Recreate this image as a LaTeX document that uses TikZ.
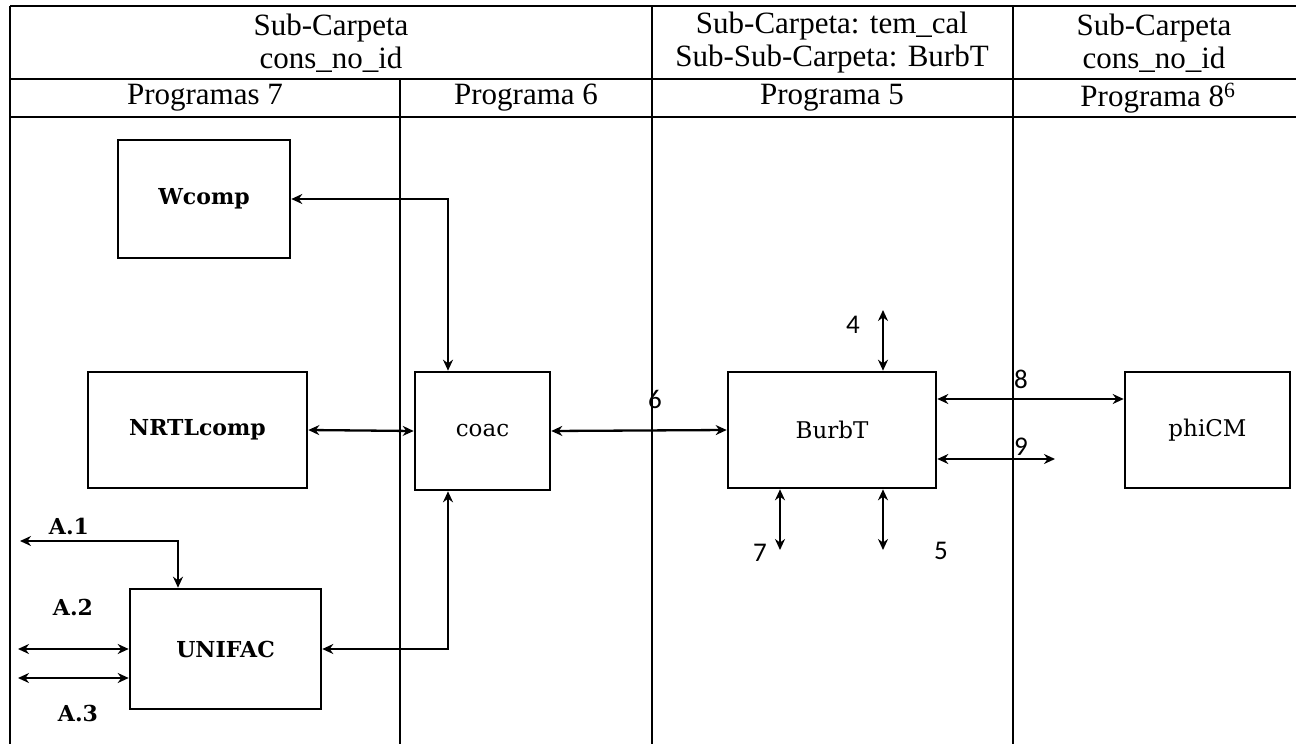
\documentclass[tikz,border=0pt]{standalone}
\usepackage{fontspec}
\setmainfont{Liberation Serif}
\newfontfamily\boxfont{DejaVu Serif}
\newfontfamily\numfont{Carlito}
\usetikzlibrary{arrows.meta}
\begin{document}
\begin{tikzpicture}[x=1pt,y=-1pt,
  tabline/.style={line width=2.4pt},
  hdr/.style={font=\fontsize{31}{33}\selectfont, align=center, inner sep=0pt},
  blk/.style={draw, line width=2.6pt, rectangle, inner sep=0pt, font=\boxfont\fontsize{23}{26}\selectfont},
  bblk/.style={blk, font=\boxfont\bfseries\fontsize{22}{26}\selectfont},
  conn/.style={line width=2.3pt, {Stealth[length=11pt,width=10pt]}-{Stealth[length=11pt,width=10pt]}},
  num/.style={font=\numfont\fontsize{27}{30}\selectfont, inner sep=0pt},
  alab/.style={font=\boxfont\bfseries\fontsize{22}{26}\selectfont, inner sep=0pt}
]
\useasboundingbox (0,0) rectangle (1296,744);
% table
\draw[tabline] (10,6) -- (1296,6);
\draw[tabline] (10,79) -- (1296,79);
\draw[tabline] (10,117) -- (1296,117);
\draw[tabline] (10,6) -- (10,744);
\draw[tabline] (400,79) -- (400,744);
\draw[tabline] (652,6) -- (652,744);
\draw[tabline] (1013,6) -- (1013,744);
% headers
\node[hdr] (h1) at (331,43) {Sub-Carpeta\\cons\_no\_id};
\node[hdr] (h2) at (832,43) {Sub-Carpeta: tem\_cal\\Sub-Sub-Carpeta: BurbT};
\node[hdr] (h3) at (1154,43) {Sub-Carpeta\\cons\_no\_id};
\node[hdr] (p7) at (205,98) {Programas 7};
\node[hdr] (p6) at (526,98) {Programa 6};
\node[hdr] (p5) at (832,98) {Programa 5};
\node[hdr] (p8) at (1158,98) {Programa 8\textsuperscript{6}};
% boxes
\node[bblk, minimum width=172pt, minimum height=118pt] (Wcomp) at (204,199) {Wcomp};
\node[bblk, minimum width=219pt, minimum height=116pt] (NRTL) at (197.5,430) {NRTLcomp};
\node[blk, minimum width=135pt, minimum height=118pt] (coac) at (482.5,431) {coac};
\node[bblk, minimum width=191pt, minimum height=120pt] (UNIFAC) at (225.5,649) {UNIFAC};
\node[blk, minimum width=208pt, minimum height=116pt] (BurbT) at (832,430) {BurbT};
\node[blk, minimum width=165pt, minimum height=116pt] (phiCM) at (1207.5,430) {phiCM};
% helper coordinates
\coordinate (cx) at (448,0);
\coordinate (ux) at (178,0);
\coordinate (a1) at (20,541);
\coordinate (a2) at (18,649);
\coordinate (a3) at (18,678);
\coordinate (t4) at (883,310);
\coordinate (t7) at (780,550);
\coordinate (t5) at (883,550);
\coordinate (y8) at (0,399);
\coordinate (t9) at (1055,459);
% connectors
\draw[conn] (Wcomp.east) -| (coac.north -| cx);
\draw[conn] (NRTL.east) -- (coac.west);
\draw[conn] (coac.east) -- (BurbT.west);
\draw[conn] (UNIFAC.east) -| (coac.south -| cx);
\draw[conn] (a1) -| (UNIFAC.north -| ux);
\draw[conn] (a2) -- (UNIFAC.west |- a2);
\draw[conn] (a3) -- (UNIFAC.west |- a3);
\draw[conn] (t4) -- (BurbT.north -| t4);
\draw[conn] (BurbT.south -| t7) -- (t7);
\draw[conn] (BurbT.south -| t5) -- (t5);
\draw[conn] (BurbT.east |- y8) -- (phiCM.west |- y8);
\draw[conn] (BurbT.east |- t9) -- (t9);
% labels
\node[num] (l6) at (655,399) {6};
\node[num] (l4) at (853,325) {4};
\node[num] (l8) at (1021,379) {8};
\node[num] (l9) at (1021,447) {9};
\node[num] (l7) at (760,553) {7};
\node[num] (l5) at (941,551) {5};
\node[alab] (la1) at (69,526) {A.1};
\node[alab] (la2) at (73,607) {A.2};
\node[alab] (la3) at (78,713) {A.3};
\end{tikzpicture}
\end{document}
